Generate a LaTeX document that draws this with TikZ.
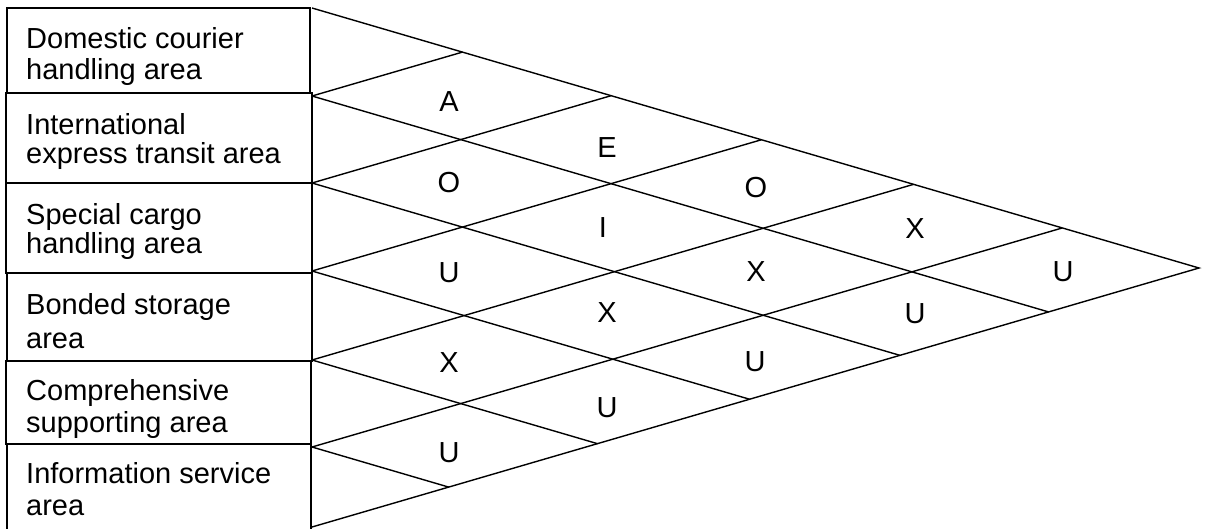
\documentclass[tikz,border=0pt]{standalone}
\usepackage{fontspec}
\setmainfont{Liberation Sans}
\usetikzlibrary{calc}
\begin{document}
\begin{tikzpicture}[x=1pt,y=-1pt,
  box/.style={draw, line width=2.4pt, anchor=north west, inner sep=0pt, outer sep=0pt},
  area/.style={anchor=north west, inner sep=0pt, align=left},
  rel/.style={inner sep=0pt, font=\fontsize{29}{32}\selectfont},
  gridline/.style={line width=1.4pt}]
\useasboundingbox (0,0) rectangle (1208,528);
% area boxes
\node[box, minimum width=303pt, minimum height=85pt] (b1) at (7,8) {};
\node[box, minimum width=306pt, minimum height=90pt] (b2) at (6,93) {};
\node[box, minimum width=306pt, minimum height=90pt] (b3) at (6,183) {};
\node[box, minimum width=305pt, minimum height=88pt] (b4) at (7,273) {};
\node[box, minimum width=305pt, minimum height=83pt] (b5) at (6,361) {};
\node[box, minimum width=304pt, minimum height=100pt] (b6) at (7,444) {};
% area texts
\node[area, font=\fontsize{29}{31}\selectfont] (t1) at (26,27) {Domestic courier\\handling area};
\node[area, font=\fontsize{29}{29.5}\selectfont] (t2) at (26,113) {International\\express transit area};
\node[area, font=\fontsize{29}{29.5}\selectfont] (t3) at (26,203) {Special cargo\\handling area};
\node[area, font=\fontsize{29}{34}\selectfont] (t4) at (26,293) {Bonded storage\\area};
\node[area, font=\fontsize{29}{32}\selectfont] (t5) at (26,379) {Comprehensive\\supporting area};
\node[area, font=\fontsize{29}{32}\selectfont] (t6) at (26,462) {Information service\\area};
% matrix vertices
\coordinate (L0) at (312,8);
\coordinate (L1) at (312,96);
\coordinate (L2) at (312,183);
\coordinate (L3) at (312,271);
\coordinate (L4) at (312,360);
\coordinate (L5) at (312,447);
\coordinate (L6) at (312,527);
\coordinate (apex) at (1199,268);
\coordinate (D1) at ($(L6)!0.8304!(apex)$);
\coordinate (D2) at ($(L6)!0.6628!(apex)$);
\coordinate (D3) at ($(L6)!0.4933!(apex)$);
\coordinate (D4) at ($(L6)!0.3218!(apex)$);
\coordinate (D5) at ($(L6)!0.1541!(apex)$);
\coordinate (U1) at ($(L0)!0.1696!(apex)$);
\coordinate (U2) at ($(L0)!0.3372!(apex)$);
\coordinate (U3) at ($(L0)!0.5067!(apex)$);
\coordinate (U4) at ($(L0)!0.6782!(apex)$);
\coordinate (U5) at ($(L0)!0.8459!(apex)$);
\draw[gridline] (L0) -- (apex) -- (L6);
\foreach \i in {1,...,5}{
  \draw[gridline] (L\i) -- (D\i);
  \draw[gridline] (L\i) -- (U\i);
}
% relationship letters
\node[rel] (r12) at (449,102) {A};
\node[rel] (r13) at (607,148) {E};
\node[rel] (r14) at (756,188) {O};
\node[rel] (r15) at (915,229) {X};
\node[rel] (r16) at (1063,272) {U};
\node[rel] (r23) at (449,183) {O};
\node[rel] (r24) at (603,228) {I};
\node[rel] (r25) at (756,272) {X};
\node[rel] (r26) at (915,314) {U};
\node[rel] (r34) at (449,273) {U};
\node[rel] (r35) at (607,313) {X};
\node[rel] (r36) at (755,362) {U};
\node[rel] (r45) at (449,363) {X};
\node[rel] (r46) at (607,408) {U};
\node[rel] (r56) at (449,453) {U};
\end{tikzpicture}
\end{document}
